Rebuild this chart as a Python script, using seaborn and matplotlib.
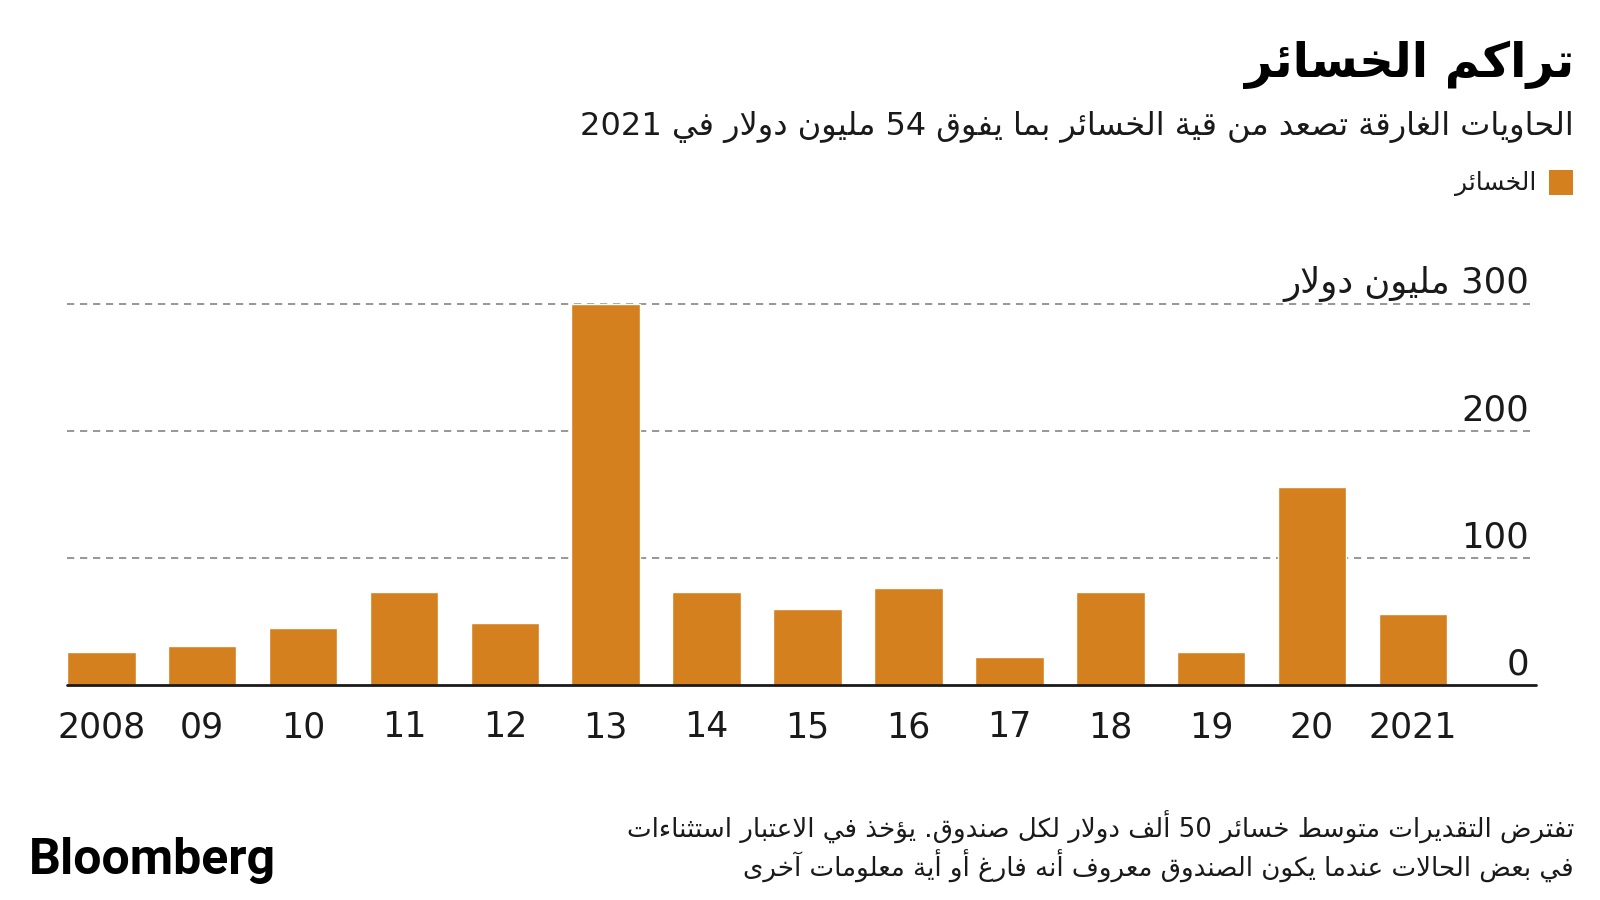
import re
import matplotlib
matplotlib.use("Agg")
import matplotlib.pyplot as plt
from matplotlib.patches import Rectangle
import seaborn as sns
import pandas as pd

# ---------------- data ----------------
years = ["2008", "09", "10", "11", "12", "13", "14", "15", "16", "17", "18", "19", "20", "2021"]
losses = [26, 31, 45, 73, 49, 300, 73, 60, 76, 22, 73, 26, 156, 56]
y_ticks = [0, 100, 200, 300]
y_tick_labels = ["0", "100", "200", "300 مليون دولار"]

title = "تراكم الخسائر"
subtitle = "الحاويات الغارقة تصعد من قية الخسائر بما يفوق 54 مليون دولار في 2021"
legend_label = "الخسائر"
footnote_lines = [
    "تفترض التقديرات متوسط خسائر 50 ألف دولار لكل صندوق. يؤخذ في الاعتبار استثناءات",
    "في بعض الحالات عندما يكون الصندوق معروف أنه فارغ أو أية معلومات آخرى",
]
source = "Bloomberg"

BAR = "#D5801F"
INK = "#1a1a1a"

# ---------------- Arabic shaping (presentation forms + visual order) ----------------
DUAL = {'ئ': 0xFE89, 'ب': 0xFE8F, 'ت': 0xFE95, 'ث': 0xFE99, 'ج': 0xFE9D, 'ح': 0xFEA1,
        'خ': 0xFEA5, 'س': 0xFEB1, 'ش': 0xFEB5, 'ص': 0xFEB9, 'ض': 0xFEBD, 'ط': 0xFEC1,
        'ظ': 0xFEC5, 'ع': 0xFEC9, 'غ': 0xFECD, 'ف': 0xFED1, 'ق': 0xFED5, 'ك': 0xFED9,
        'ل': 0xFEDD, 'م': 0xFEE1, 'ن': 0xFEE5, 'ه': 0xFEE9, 'ي': 0xFEF1}
RIGHT = {'آ': 0xFE81, 'أ': 0xFE83, 'ؤ': 0xFE85, 'إ': 0xFE87, 'ا': 0xFE8D, 'ة': 0xFE93,
         'د': 0xFEA9, 'ذ': 0xFEAB, 'ر': 0xFEAD, 'ز': 0xFEAF, 'و': 0xFEED, 'ى': 0xFEEF}
NONE = {'ء': 0xFE80}
LAMALEF = {'آ': 0xFEF5, 'أ': 0xFEF7, 'إ': 0xFEF9, 'ا': 0xFEFB}


def ar(s):
    tokens = []
    i = 0
    while i < len(s):
        c = s[i]
        if c == 'ل' and i + 1 < len(s) and s[i + 1] in LAMALEF:
            tokens.append(('LA', s[i + 1]))
            i += 2
        else:
            tokens.append(('C', c))
            i += 1

    def jt(t):
        kind, c = t
        if kind == 'LA':
            return 'R'
        if c in DUAL:
            return 'D'
        if c in RIGHT:
            return 'R'
        if c in NONE:
            return 'U'
        return 'N'

    out = []
    for k, t in enumerate(tokens):
        j = jt(t)
        prev = jt(tokens[k - 1]) if k > 0 else 'N'
        nxt = jt(tokens[k + 1]) if k + 1 < len(tokens) else 'N'
        jp = j in ('D', 'R') and prev == 'D'
        jn = j == 'D' and nxt in ('D', 'R')
        kind, c = t
        if kind == 'LA':
            out.append(chr(LAMALEF[c] + (1 if jp else 0)))
        elif j == 'D':
            b = DUAL[c]
            out.append(chr(b + 3 if (jp and jn) else b + 1 if jp else b + 2 if jn else b))
        elif j == 'R':
            out.append(chr(RIGHT[c] + (1 if jp else 0)))
        elif j == 'U':
            out.append(chr(NONE[c]))
        else:
            out.append(c)
    rev = ''.join(out)[::-1]
    return re.sub(r'[0-9][0-9.,]*[0-9]|[0-9]', lambda m: m.group(0)[::-1], rev)


# ---------------- figure ----------------
sns.set_theme(style="white")
plt.rcParams['font.family'] = ['DejaVu Sans']
W, H = 1600, 900
fig = plt.figure(figsize=(16, 9), dpi=100)
fig.patch.set_facecolor("white")


def fx(x):
    return x / W


def fy(y):
    return 1 - y / H


ax = fig.add_axes([fx(67), fy(685), (1536 - 67) / W, 444.5 / H])
df = pd.DataFrame({"year": years, "loss": losses})
sns.barplot(data=df, x="year", y="loss", color=BAR, saturation=1, width=0.68, ax=ax)
ax.set_xlim(-0.34, 14.22)
ax.set_ylim(0, 350)
for s in ax.spines.values():
    s.set_visible(False)
ax.set_xlabel("")
ax.set_ylabel("")
ax.set_yticks([])
ax.tick_params(axis="x", length=0, pad=18, labelsize=25, labelcolor=INK)

for v in y_ticks[1:]:
    ax.axhline(v, xmin=0, xmax=0.996, color="#8f8f8f", lw=1.3, ls=(0, (4, 3.2)), zorder=0)
ax.axhline(0, color=INK, lw=2, zorder=5, clip_on=False)

for v, lab in zip(y_ticks, y_tick_labels):
    ax.text(0.9952, v + 8.5, ar(lab), transform=ax.get_yaxis_transform(), ha="right", va="baseline",
            fontsize=25.5, color=INK)

# title etc.
fig.text(fx(1574), fy(65), ar(title), ha="right", va="center", fontsize=34.5, fontweight="bold", color="black")
fig.text(fx(1574), fy(127), ar(subtitle), ha="right", va="center", fontsize=23, color=INK)
fig.patches.append(Rectangle((fx(1549), fy(195)), 24 / W, 25 / H, transform=fig.transFigure,
                             facecolor=BAR, edgecolor="none"))
fig.text(fx(1536), fy(184), ar(legend_label), ha="right", va="center", fontsize=18, color=INK)
for yy, line in zip([827, 866], footnote_lines):
    fig.text(fx(1574), fy(yy), ar(line), ha="right", va="center", fontsize=18.8, color=INK)
fig.text(fx(29), fy(861), source, ha="left", va="center", fontsize=36, fontweight="bold",
         family="Roboto", color="black")

fig.savefig("out.png", dpi=100, facecolor="white")
